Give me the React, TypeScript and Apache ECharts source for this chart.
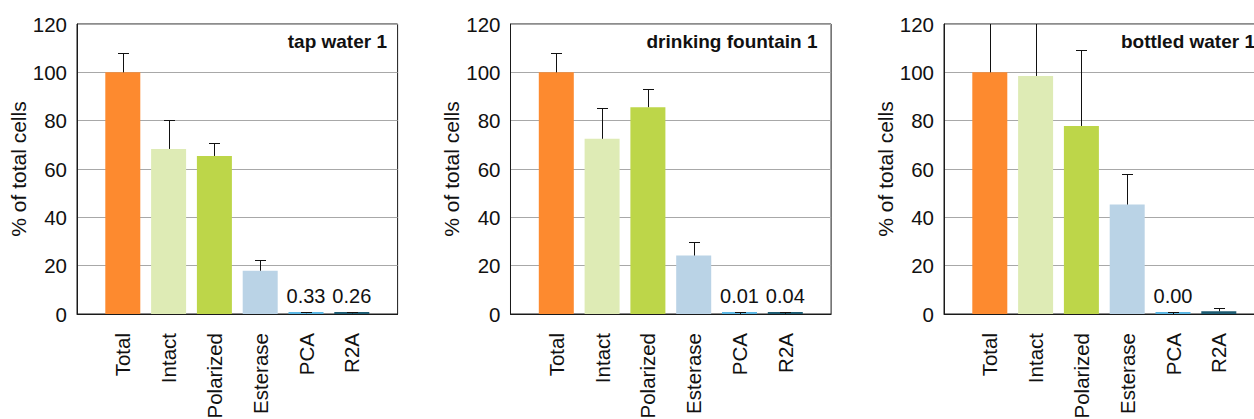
import React, { useEffect, useRef } from "react";
import * as echarts from "echarts";

const categories = ["Total", "Intact", "Polarized", "Esterase", "PCA", "R2A"];
const barColors = ["#FD8A2F", "#DEEBB5", "#BDD649", "#BAD3E6", "#5BB6E3", "#1D5B72"];
const panelTitles = ["tap water 1", "drinking fountain 1", "bottled water 1"];

const tapValues = [100, 68.3, 65.4, 17.9, 0.33, 0.26];
const tapErrTop = [108.2, 80.3, 70.9, 22.2, 0.9, 0.8];
const tapLabels = ["", "", "", "", "0.33", "0.26"];

const fountainValues = [100, 72.5, 85.6, 24.2, 0.01, 0.04];
const fountainErrTop = [108.2, 85.3, 93.1, 29.6, 0.8, 0.8];
const fountainLabels = ["", "", "", "", "0.01", "0.04"];

const bottledValues = [100, 98.5, 77.8, 45.3, 0.0, 1.1];
const bottledErrTop = [128, 132, 109.3, 58.0, 0.8, 2.5];
const bottledLabels = ["", "", "", "", "0.00", ""];

const yMin = 0;
const yMax = 120;
const yStep = 20;
const yAxisName = "% of total cells";

const panels = [
  { values: tapValues, err: tapErrTop, labels: tapLabels },
  { values: fountainValues, err: fountainErrTop, labels: fountainLabels },
  { values: bottledValues, err: bottledErrTop, labels: bottledLabels },
];

const FONT = 'Arial, "Liberation Sans", Helvetica, sans-serif';
const gridLefts = [77, 510.5, 944];
const gridWidth = 320.6;
const gridTop = 24;
const gridHeight = 290;
const titleRight = [387, 817.5, 1255];

export default function App() {
  const ref = useRef<HTMLDivElement>(null);
  useEffect(() => {
    if (!ref.current) return;
    const chart = echarts.init(ref.current, null, { renderer: "svg" });
    const paddedCats = ["", ...categories, ""];

    const grid = gridLefts.map((l) => ({
      left: l,
      top: gridTop,
      width: gridWidth,
      height: gridHeight,
      containLabel: false,
      outerBoundsMode: "none",
      show: true,
      borderColor: "#1a1a1a",
      borderWidth: 1,
      backgroundColor: "transparent",
    }));

    const xAxis = panels.map((_, i) => ({
      type: "category",
      gridIndex: i,
      data: paddedCats,
      boundaryGap: false,
      axisLine: { show: true, lineStyle: { color: "#1a1a1a", width: 1 } },
      axisTick: { show: false },
      splitLine: { show: false },
      axisLabel: {
        interval: 0,
        rotate: 90,
        margin: 19,
        fontSize: 20.5,
        fontFamily: FONT,
        color: "#111",
      },
    }));

    const yAxis = panels.map((_, i) => ({
      type: "value",
      gridIndex: i,
      min: yMin,
      max: yMax,
      interval: yStep,
      name: yAxisName,
      nameLocation: "middle",
      nameRotate: 90,
      nameGap: 44,
      nameTextStyle: { fontSize: 21, fontFamily: FONT, color: "#111" },
      axisLine: { show: true, lineStyle: { color: "#1a1a1a", width: 1 } },
      axisTick: { show: false },
      splitLine: { show: true, lineStyle: { color: "#A8A8A8", width: 1 } },
      axisLabel: { margin: 10, fontSize: 20.5, fontFamily: FONT, color: "#111" },
    }));

    const series: any[] = [];
    panels.forEach((p, i) => {
      series.push({
        type: "bar",
        xAxisIndex: i,
        yAxisIndex: i,
        barWidth: 35,
        barMinHeight: 2,
        data: [
          "-",
          ...p.values.map((v, k) => ({ value: v, itemStyle: { color: barColors[k] } })),
          "-",
        ],
        label: {
          show: true,
          position: "top",
          distance: 6,
          fontSize: 20,
          fontFamily: FONT,
          color: "#111",
          formatter: (params: any) => p.labels[params.dataIndex - 1] ?? "",
        },
        z: 2,
      });
      series.push({
        type: "custom",
        xAxisIndex: i,
        yAxisIndex: i,
        clip: true,
        z: 3,
        data: p.values.map((v, k) => [k + 1, v, p.err[k]]),
        renderItem: (params: any, api: any) => {
          const idx = api.value(0);
          const v = api.value(1);
          const e = api.value(2);
          const top = api.coord([idx, e]);
          const base = api.coord([idx, v]);
          const x = Math.round(top[0]) + 0.5;
          const yt = Math.round(top[1]) + 0.5;
          const style = { stroke: "#111", lineWidth: 1 };
          return {
            type: "group",
            children: [
              { type: "line", shape: { x1: x, y1: base[1], x2: x, y2: yt }, style },
              { type: "line", shape: { x1: x - 5.5, y1: yt, x2: x + 5.5, y2: yt }, style },
            ],
          };
        },
      });
    });

    const graphic = panelTitles.map((t, i) => ({
      type: "text",
      x: titleRight[i],
      y: 41,
      z: 10,
      style: {
        text: t,
        fontSize: 19,
        fontWeight: "bold",
        fontFamily: FONT,
        align: "right",
        verticalAlign: "middle",
        fill: "#111",
      },
    }));

    chart.setOption({
      animation: false,
      backgroundColor: "#ffffff",
      grid,
      xAxis,
      yAxis,
      series,
      graphic,
    });
    return () => chart.dispose();
  }, []);
  return (
    <div
      ref={ref}
      style={{ position: "absolute", left: 0, top: 0, width: 1254, height: 419, overflow: "hidden" }}
    />
  );
}
